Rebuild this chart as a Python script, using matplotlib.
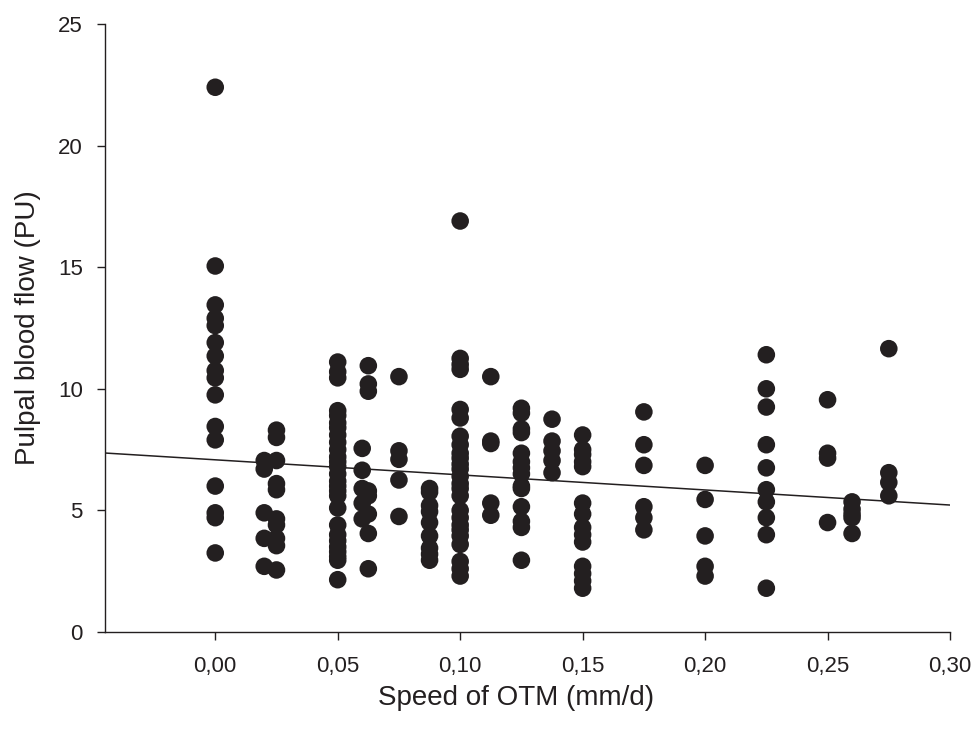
import numpy as np
import matplotlib.pyplot as plt

plt.rcParams['font.family'] = ['Liberation Sans', 'DejaVu Sans']

# speed of OTM (mm/d) -> pulpal blood flow values
speeds = [0.0, 0.02, 0.025, 0.05, 0.06, 0.0625, 0.075, 0.0875, 0.10, 0.1125,
          0.125, 0.1375, 0.15, 0.175, 0.20, 0.225, 0.25, 0.26, 0.275]
flows = [
    [22.4, 15.05, 13.45, 12.9, 12.6, 11.9, 11.35, 10.75, 10.45, 9.75, 8.45, 7.9, 6.0, 4.9, 4.7, 3.25],
    [7.05, 6.7, 4.9, 3.85, 2.7],
    [8.3, 8.0, 7.05, 6.1, 5.85, 4.65, 4.4, 3.85, 3.55, 2.55],
    [11.1, 10.7, 10.45, 9.1, 8.9, 8.6, 8.4, 8.1, 7.8, 7.5, 7.2, 7.0, 6.8, 6.5, 6.2, 6.0, 5.8, 5.6,
     5.1, 4.4, 4.0, 3.75, 3.5, 3.3, 3.1, 2.95, 2.15],
    [7.55, 6.65, 5.9, 5.3, 4.65],
    [10.95, 10.2, 9.9, 5.8, 5.6, 4.85, 4.05, 2.6],
    [10.5, 7.45, 7.1, 6.25, 4.75],
    [5.9, 5.75, 5.2, 4.95, 4.5, 3.95, 3.45, 3.2, 2.95],
    [16.9, 11.25, 11.0, 10.8, 9.15, 8.8, 8.05, 7.7, 7.35, 7.15, 6.9, 6.7, 6.4, 6.1, 5.9, 5.6,
     5.0, 4.7, 4.4, 4.2, 3.95, 3.6, 2.9, 2.6, 2.3],
    [10.5, 7.85, 7.75, 5.3, 4.8],
    [9.2, 9.0, 8.35, 8.2, 7.35, 7.0, 6.75, 6.5, 6.0, 5.9, 5.15, 4.55, 4.3, 2.95],
    [8.75, 7.85, 7.45, 7.05, 6.55],
    [8.1, 7.5, 7.3, 7.0, 6.8, 5.3, 4.85, 4.3, 4.0, 3.7, 2.7, 2.4, 2.1, 1.8],
    [9.05, 7.7, 6.85, 5.15, 4.7, 4.2],
    [6.85, 5.45, 3.95, 2.7, 2.3],
    [11.4, 10.0, 9.25, 7.7, 6.75, 5.85, 5.35, 4.7, 4.0, 1.8],
    [9.55, 7.35, 7.15, 4.5],
    [5.35, 5.05, 4.85, 4.7, 4.05],
    [11.65, 6.55, 6.15, 5.6],
]

# regression line
intercept = 7.08
slope = -6.2

xticks = [0.0, 0.05, 0.10, 0.15, 0.20, 0.25, 0.30]
xticklabels = ['0,00', '0,05', '0,10', '0,15', '0,20', '0,25', '0,30']
yticks = [0, 5, 10, 15, 20, 25]

xs = []
ys = []
for s, f in zip(speeds, flows):
    xs += [s] * len(f)
    ys += f

fig = plt.figure(figsize=(9.77, 7.37), dpi=100)
ax = fig.add_axes([0.1075, 0.1425, 0.8649, 0.8249])

ax.scatter(xs, ys, s=160, color='#231f20', edgecolors='none', zorder=3)

xmin, xmax = -0.045, 0.30
lx = np.array([xmin, xmax])
ax.plot(lx, intercept + slope * lx, color='#231f20', lw=1.1, zorder=2)

ax.set_xlim(xmin, xmax)
ax.set_ylim(0, 25)
ax.set_xticks(xticks)
ax.set_xticklabels(xticklabels)
ax.set_yticks(yticks)
ax.tick_params(labelsize=16, length=6, width=1, color='#231f20', labelcolor='#231f20', pad=10)
ax.tick_params(axis='x', pad=11)

for side in ['top', 'right']:
    ax.spines[side].set_visible(False)
for side in ['left', 'bottom']:
    ax.spines[side].set_color('#231f20')
    ax.spines[side].set_linewidth(1)

ax.set_xlabel('Speed of OTM (mm/d)', fontsize=20, color='#231f20', labelpad=4)
ax.xaxis.set_label_coords(0.486, -0.088)
ax.set_ylabel('Pulpal blood flow (PU)', fontsize=20, color='#231f20', labelpad=12)

fig.savefig('out.png', dpi=100)
